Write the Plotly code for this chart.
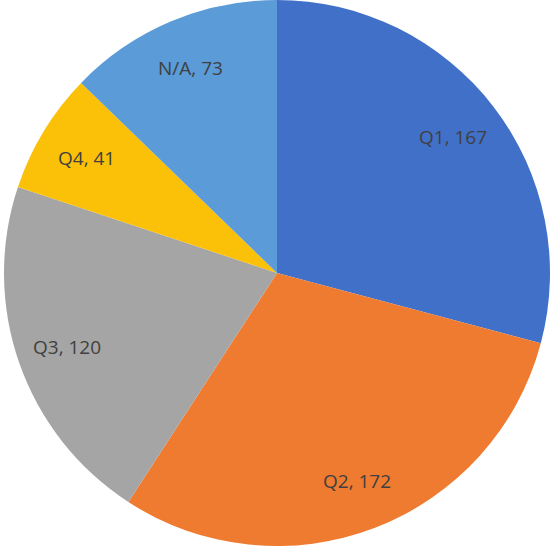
import math
import plotly.graph_objects as go

labels = ["Q1", "Q2", "Q3", "Q4", "N/A"]
values = [167, 172, 120, 41, 73]
colors = ["#4170C8", "#EE7B30", "#A5A5A5", "#FBC108", "#5A9BD8"]

W = H = 550
cx, cy, R = 277, 273, 273  # pixel centre and radius of the pie

fig = go.Figure(go.Pie(
    labels=labels,
    values=values,
    sort=False,
    direction="clockwise",
    rotation=0,
    marker=dict(colors=colors, line=dict(width=0)),
    textinfo="none",
    domain=dict(x=[(cx - R) / W, min(1.0, (cx + R) / W)],
                y=[max(0.0, 1 - (cy + R) / H), 1 - (cy - R) / H]),
    showlegend=False,
    hoverinfo="label+value",
))

# data labels placed along each slice's mid-angle, like the original
total = sum(values)
cum = 0
for lab, v in zip(labels, values):
    mid = (cum + v / 2) / total * 2 * math.pi
    cum += v
    r = 0.815 * R
    px = cx + r * math.sin(mid)
    py = cy - r * math.cos(mid)
    fig.add_annotation(
        x=px / W, y=1 - py / H, xref="paper", yref="paper",
        text=f"{lab}, {v}", showarrow=False,
        xanchor="center", yanchor="middle",
        font=dict(family="Open Sans", size=19, color="#404040"),
    )

fig.update_layout(
    width=W, height=H,
    margin=dict(l=0, r=0, t=0, b=0),
    paper_bgcolor="white",
    plot_bgcolor="white",
)
fig.write_html("out.html", config={"displayModeBar": False},
               post_script="document.body.style.margin='0';")
